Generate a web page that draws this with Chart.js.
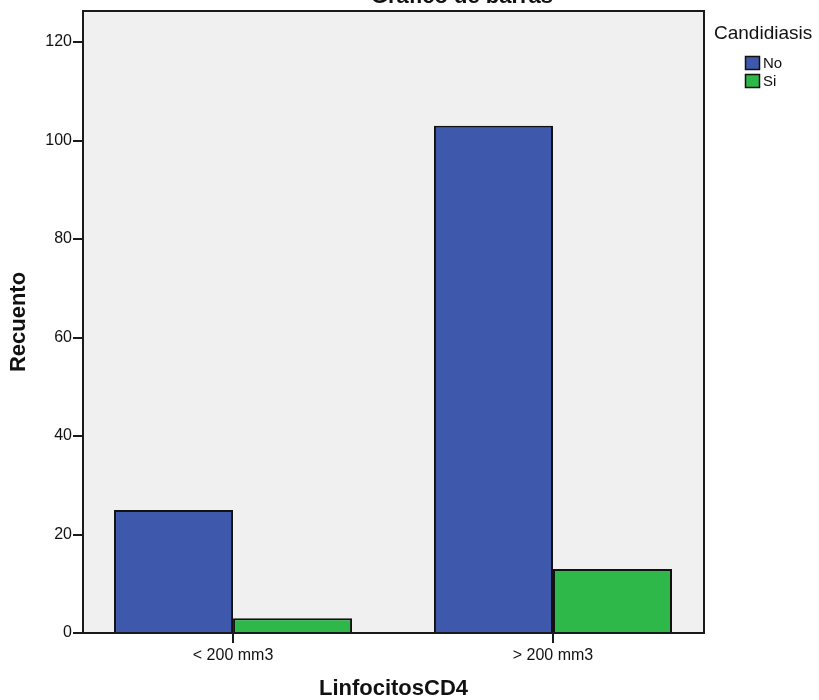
<!DOCTYPE html>
<html>
<head>
<meta charset="utf-8">
<script src="https://cdn.jsdelivr.net/npm/chart.js@4/dist/chart.umd.min.js"></script>
<style>
  html, body { margin: 0; padding: 0; background: #fff; }
  #wrap { width: 819px; height: 700px; position: relative; }
</style>
</head>
<body>
<div id="wrap"><canvas id="chart"></canvas></div>
<script>
// Data
const categories = ['< 200 mm3', '> 200 mm3'];
const seriesNames = ['No', 'Si'];
const noValues = [25, 103];
const siValues = [3, 13];
const yTicks = [0, 20, 40, 60, 80, 100, 120];

const FONT = 'Arial, "Liberation Sans", sans-serif';

// category positions on a numeric x axis (0, 1, ...)
const toPoints = values => values.map((v, i) => ({ x: i, y: v }));

// Frame, cut-off title and legend drawn on the canvas
const framePlugin = {
    id: 'frame',
    beforeDraw(chart) {
        const { ctx, chartArea: a } = chart;
        ctx.save();
        ctx.fillStyle = '#f0f0f0';
        ctx.fillRect(a.left, a.top, a.right - a.left, a.bottom - a.top);
        ctx.restore();
    },
    afterDraw(chart) {
        const { ctx, chartArea: a } = chart;
        ctx.save();
        ctx.strokeStyle = '#1a1a1a';
        ctx.lineWidth = 2;
        ctx.strokeRect(a.left, a.top, a.right - a.left, a.bottom - a.top);

        // title, mostly above the visible area as in the reference
        ctx.fillStyle = '#111';
        ctx.font = 'bold 22px ' + FONT;
        ctx.textAlign = 'center';
        ctx.textBaseline = 'alphabetic';
        ctx.fillText('Gráfico de barras', 462, 3);

        // legend
        ctx.textAlign = 'left';
        ctx.textBaseline = 'middle';
        ctx.font = '19px ' + FONT;
        ctx.fillText('Candidiasis', 714, 34);
        ctx.font = '15px ' + FONT;
        chart.data.datasets.forEach((ds, i) => {
            const y = 56 + i * 18;
            ctx.fillStyle = ds.backgroundColor;
            ctx.fillRect(745, y, 15, 14);
            ctx.strokeStyle = '#111';
            ctx.lineWidth = 1.5;
            ctx.strokeRect(745.5, y + 0.5, 14, 13);
            ctx.fillStyle = '#111';
            ctx.fillText(ds.label, 763, y + 8);
        });
        ctx.restore();
    }
};

const ctx = document.getElementById('chart').getContext('2d');
new Chart(ctx, {
    type: 'bar',
    data: {
        datasets: [
            {
                label: seriesNames[0],
                data: toPoints(noValues),
                backgroundColor: '#3e58ac',
                borderColor: '#111',
                borderWidth: 2
            },
            {
                label: seriesNames[1],
                data: toPoints(siValues),
                backgroundColor: '#2eb84a',
                borderColor: '#111',
                borderWidth: 2
            }
        ]
    },
    options: {
        responsive: true,
        maintainAspectRatio: false,
        animation: false,
        layout: {
            padding: { top: 11, right: 115, left: 0, bottom: 0 }
        },
        datasets: {
            bar: { categoryPercentage: 0.744, barPercentage: 1.0 }
        },
        plugins: {
            legend: { display: false },
            tooltip: { enabled: false },
            title: { display: false }
        },
        scales: {
            x: {
                type: 'linear',
                min: -0.469,
                max: 1.472,
                offset: false,
                grid: {
                    display: true,
                    offset: false,
                    drawOnChartArea: false,
                    drawTicks: true,
                    tickLength: 10,
                    lineWidth: 2,
                    color: '#1a1a1a'
                },
                border: { color: '#1a1a1a', width: 2 },
                afterBuildTicks(scale) {
                    scale.ticks = categories.map((c, i) => ({ value: i }));
                },
                ticks: {
                    color: '#111',
                    font: { family: FONT, size: 16 },
                    padding: 3,
                    callback: v => categories[v]
                },
                title: {
                    display: true,
                    text: 'LinfocitosCD4',
                    color: '#111',
                    font: { family: FONT, size: 22, weight: 'bold', lineHeight: 1 },
                    padding: { top: 18, bottom: 0 }
                },
                afterFit(scale) { scale.height = 67; }
            },
            y: {
                min: 0,
                max: 126.3,
                grid: {
                    display: true,
                    drawOnChartArea: false,
                    drawTicks: true,
                    tickLength: 10,
                    lineWidth: 2,
                    color: '#1a1a1a'
                },
                border: { color: '#1a1a1a', width: 2 },
                ticks: {
                    color: '#111',
                    font: { family: FONT, size: 16 },
                    padding: 1
                },
                afterBuildTicks(scale) {
                    scale.ticks = yTicks.map(v => ({ value: v }));
                },
                title: {
                    display: true,
                    text: 'Recuento',
                    color: '#111',
                    font: { family: FONT, size: 22, weight: 'bold' },
                    padding: { top: 6, bottom: 0 }
                },
                afterFit(scale) { scale.width = 83; }
            }
        }
    },
    plugins: [framePlugin]
});
</script>
</body>
</html>
